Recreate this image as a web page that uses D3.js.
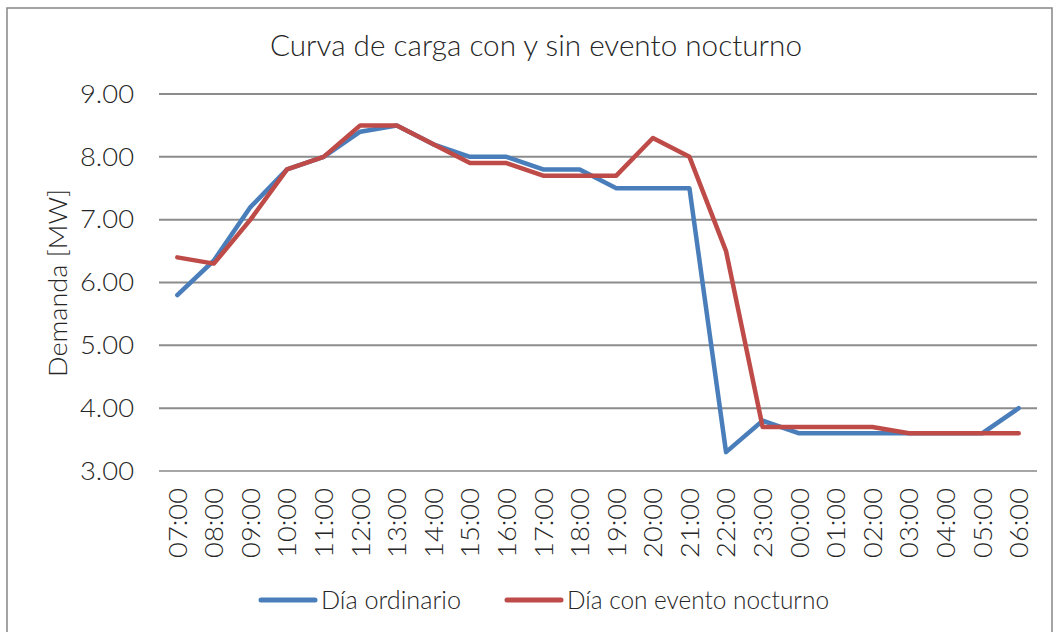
<!DOCTYPE html>
<html>
<head>
<meta charset="utf-8">
<script src="https://cdn.jsdelivr.net/npm/d3@7"></script>
<style>
  body { margin: 0; background: #fff; }
  text { font-family: "Lato", "Open Sans", "DejaVu Sans", sans-serif; font-weight: 300; fill: #262626; }
</style>
</head>
<body>
<div id="chart"></div>
<script>
// horas del día
let horas = ["07:00", "08:00", "09:00", "10:00", "11:00", "12:00", "13:00", "14:00", "15:00", "16:00", "17:00", "18:00",
    "19:00", "20:00", "21:00", "22:00", "23:00", "00:00", "01:00", "02:00", "03:00", "04:00", "05:00", "06:00"];
let diaOrdinario = [5.8, 6.35, 7.2, 7.8, 8.0, 8.4, 8.5, 8.2, 8.0, 8.0, 7.8, 7.8,
    7.5, 7.5, 7.5, 3.3, 3.8, 3.6, 3.6, 3.6, 3.6, 3.6, 3.6, 4.0];
let diaEvento = [6.4, 6.3, 7.0, 7.8, 8.0, 8.5, 8.5, 8.2, 7.9, 7.9, 7.7, 7.7,
    7.7, 8.3, 8.0, 6.5, 3.7, 3.7, 3.7, 3.7, 3.6, 3.6, 3.6, 3.6];
let yTicks = [3, 4, 5, 6, 7, 8, 9];

let series = [
    { name: "Día ordinario", values: diaOrdinario, color: "#4A7EBB" },
    { name: "Día con evento nocturno", values: diaEvento, color: "#BE4B48" }
];

let width = 1053, height = 632;
let svg = d3.select("#chart").append("svg")
    .attr("width", width)
    .attr("height", height);

// marco
svg.append("rect")
    .attr("x", 7).attr("y", 8)
    .attr("width", 1045).attr("height", 640)
    .attr("fill", "none")
    .attr("stroke", "#868686")
    .attr("stroke-width", 1.5);

let x = d3.scaleBand().domain(horas).range([159, 1037]);
let y = d3.scaleLinear().domain([3, 9]).range([471, 94]);

// título
svg.append("text")
    .attr("x", 536).attr("y", 56)
    .attr("text-anchor", "middle")
    .attr("textLength", 532)
    .attr("lengthAdjust", "spacingAndGlyphs")
    .style("font-size", "29px")
    .text("Curva de carga con y sin evento nocturno");

// rejilla
svg.append("g").selectAll("line")
    .data(yTicks)
    .enter().append("line")
    .attr("x1", 159).attr("x2", 1037)
    .attr("y1", d => y(d)).attr("y2", d => y(d))
    .attr("stroke", d => d === 3 ? "#a6a6a6" : "#8c8c8c")
    .attr("stroke-width", 2);

// eje y
svg.append("g").selectAll("text")
    .data(yTicks)
    .enter().append("text")
    .attr("x", 134)
    .attr("y", d => y(d))
    .attr("dy", "0.35em")
    .attr("text-anchor", "end")
    .attr("textLength", 54)
    .attr("lengthAdjust", "spacingAndGlyphs")
    .style("font-size", "25px")
    .text(d => d3.format(".2f")(d));

svg.append("text")
    .attr("transform", "translate(67,283) rotate(-90)")
    .attr("text-anchor", "middle")
    .attr("textLength", 188)
    .attr("lengthAdjust", "spacingAndGlyphs")
    .style("font-size", "25px")
    .text("Demanda [MW]");

// eje x
svg.append("g").selectAll("text")
    .data(horas)
    .enter().append("text")
    .attr("transform", d => "translate(" + (x(d) + x.bandwidth() / 2) + ",488) rotate(-90)")
    .attr("dy", "0.36em")
    .attr("text-anchor", "end")
    .attr("textLength", 70)
    .attr("lengthAdjust", "spacingAndGlyphs")
    .style("font-size", "26px")
    .text(d => d);

// líneas
let line = d3.line()
    .x((d, i) => x(horas[i]) + x.bandwidth() / 2)
    .y(d => y(d));

svg.append("g").selectAll("path")
    .data(series)
    .enter().append("path")
    .attr("d", d => line(d.values))
    .attr("fill", "none")
    .attr("stroke", d => d.color)
    .attr("stroke-width", 4.5)
    .attr("stroke-linejoin", "round")
    .attr("stroke-linecap", "round");

// leyenda
let legendX = [261, 507];
let legendW = [140, 262];
let legend = svg.append("g").selectAll("g")
    .data(series)
    .enter().append("g")
    .attr("transform", (d, i) => "translate(" + legendX[i] + ",600)");
legend.append("line")
    .attr("x1", 0).attr("x2", 54)
    .attr("stroke", d => d.color)
    .attr("stroke-width", 5)
    .attr("stroke-linecap", "round");
legend.append("text")
    .attr("x", 60)
    .attr("dy", "0.35em")
    .attr("textLength", (d, i) => legendW[i])
    .attr("lengthAdjust", "spacingAndGlyphs")
    .style("font-size", "25px")
    .text(d => d.name);
</script>
</body>
</html>
